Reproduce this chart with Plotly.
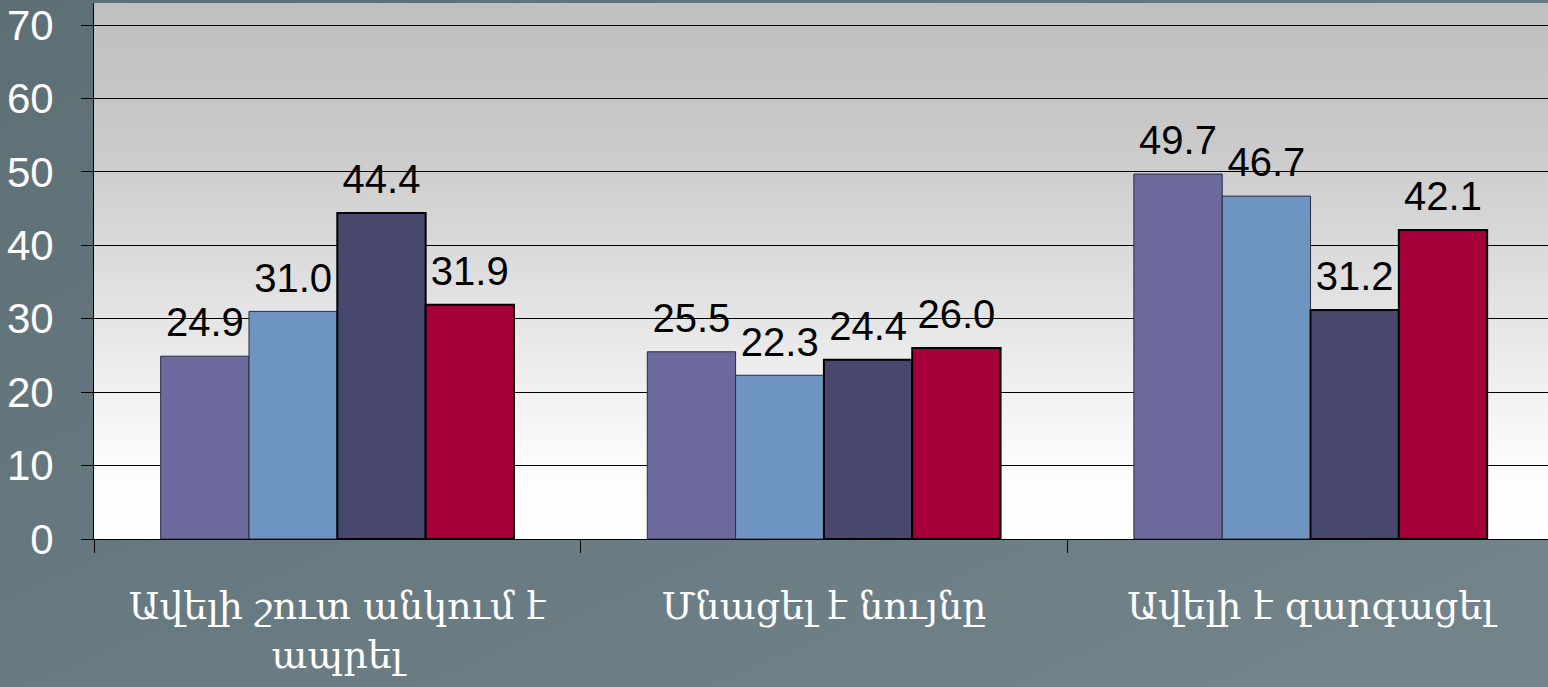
import base64
import plotly.graph_objects as go

categories = ["Ավելի շուտ անկում է<br>ապրել", "Մնացել է նույնը", "Ավելի է զարգացել"]
series_1 = [24.9, 25.5, 49.7]
series_2 = [31.0, 22.3, 46.7]
series_3 = [44.4, 24.4, 31.2]
series_4 = [31.9, 26.0, 42.1]
y_ticks = [0, 10, 20, 30, 40, 50, 60, 70]

series = [
    ("1", series_1, "#6c6a9c", "#2b2b3d", 1),
    ("2", series_2, "#6e95c2", "#2b2b3d", 1),
    ("3", series_3, "#48486e", "#000000", 2),
    ("4", series_4, "#a6003a", "#000000", 2),
]


def svg_uri(stops, x2="0", y2="1"):
    st = "".join(f'<stop offset="{o}" stop-color="{c}"/>' for o, c in stops)
    svg = (
        '<svg xmlns="http://www.w3.org/2000/svg" width="100" height="100" preserveAspectRatio="none">'
        f'<defs><linearGradient id="g" x1="0" y1="0" x2="{x2}" y2="{y2}">{st}</linearGradient></defs>'
        '<rect width="100" height="100" fill="url(#g)"/></svg>'
    )
    return "data:image/svg+xml;base64," + base64.b64encode(svg.encode()).decode()


paper_bg = svg_uri([(0, "#5c6f75"), (0.5, "#687a81"), (1, "#74858c")], x2="1", y2="1")
plot_bg = svg_uri([(0, "#bfbfbf"), (0.25, "#c9c9c9"), (0.6, "#e6e6e6"), (0.85, "#fbfbfb"), (1, "#ffffff")])

fig = go.Figure()
for name, vals, color, line_color, lw in series:
    fig.add_trace(go.Bar(
        x=categories, y=vals, name=name, offsetgroup=name,
        marker=dict(color=color, line=dict(color=line_color, width=lw)),
        cliponaxis=False, hoverinfo="skip",
    ))
for name, vals, color, line_color, lw in series:
    fig.add_trace(go.Scatter(
        x=categories, y=vals, name=name, offsetgroup=name,
        mode="markers+text", marker=dict(size=14, opacity=0),
        text=[f"{v:.1f}" for v in vals], textposition="top center",
        textfont=dict(family="Liberation Sans, Arial", size=40, color="#000000"),
        cliponaxis=False, hoverinfo="skip",
    ))

fig.update_layout(
    width=1548, height=687,
    margin=dict(l=94, r=0, t=3, b=148),
    paper_bgcolor="#66787f",
    plot_bgcolor="rgba(0,0,0,0)",
    barmode="group", bargap=0.274, bargroupgap=0,
    scattermode="group", scattergap=0.274,
    showlegend=False,
    images=[
        dict(source=paper_bg, xref="paper", yref="paper", x=-0.07, y=1.01,
             sizex=1.08, sizey=1.3, sizing="stretch", layer="below", xanchor="left", yanchor="top"),
        dict(source=plot_bg, xref="paper", yref="paper", x=0, y=1,
             sizex=1, sizey=1, sizing="stretch", layer="below", xanchor="left", yanchor="top"),
    ],
)
fig.update_xaxes(
    range=[-0.5, 2.488],
    showline=True, linecolor="#000000", linewidth=1,
    ticks="outside", tickson="boundaries", ticklen=13, tickcolor="#000000",
    tickfont=dict(family="DejaVu Serif", size=38, color="#ffffff"),
    ticklabelstandoff=33,
    showgrid=False,
)
fig.update_yaxes(
    range=[0, 73.0],
    tickvals=y_ticks,
    showline=True, linecolor="#000000", linewidth=1,
    ticks="outside", ticklen=12, tickcolor="#000000",
    showgrid=True, gridcolor="#000000", gridwidth=1,
    zeroline=False,
    tickfont=dict(family="Liberation Sans, Arial", size=42, color="#ffffff"),
    ticklabelstandoff=19,
)

fig.write_html("out.html", config={"displayModeBar": False},
               post_script="document.body.style.margin='0px';document.body.style.overflow='hidden';")
